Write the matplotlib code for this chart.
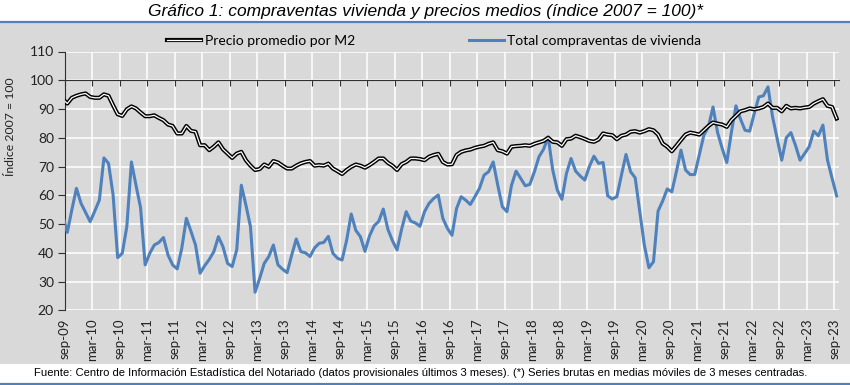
import numpy as np
import matplotlib
matplotlib.use('Agg')
import matplotlib.pyplot as plt
import matplotlib.patheffects as pe
from matplotlib.patches import Rectangle
from matplotlib.lines import Line2D

# Monthly series (aug-09 ... sep-23), index 2007 = 100
precio = [
    93.5, 91.9, 93.9, 94.6, 95.1, 95.4, 94.2, 93.9, 93.9, 95.1,
    94.6, 91.3, 88.2, 87.6, 89.9, 90.9, 90.2, 88.8, 87.5, 87.5,
    87.8, 86.9, 86.1, 84.6, 84.1, 81.5, 81.5, 84.1, 82.4, 82.1,
    77.4, 77.4, 75.7, 76.9, 78.4, 76.0, 74.5, 73.0, 74.5, 75.1,
    72.2, 70.3, 68.8, 69.1, 70.7, 69.9, 71.9, 71.4, 70.3, 69.3,
    69.3, 70.3, 71.1, 71.6, 71.9, 70.3, 70.5, 70.3, 71.0, 69.3,
    68.4, 67.4, 68.8, 69.9, 70.7, 70.3, 69.6, 70.5, 71.6, 72.8,
    72.8, 71.3, 70.3, 68.8, 70.8, 71.6, 72.8, 72.8, 72.6, 72.2,
    73.4, 74.0, 74.4, 71.6, 70.7, 70.8, 74.0, 75.1, 75.6, 75.9,
    76.5, 76.9, 77.2, 77.9, 78.4, 75.7, 75.3, 74.5, 76.9, 77.1,
    77.2, 77.4, 77.2, 77.9, 78.4, 78.9, 80.0, 78.6, 78.4, 77.2,
    79.5, 79.7, 80.7, 80.2, 79.6, 78.9, 78.6, 79.4, 81.5, 81.1,
    80.9, 79.5, 80.7, 81.1, 82.1, 82.3, 81.8, 82.3, 83.0, 82.6,
    81.1, 78.0, 76.9, 75.3, 77.2, 79.2, 81.1, 81.8, 81.5, 81.1,
    82.6, 84.1, 85.3, 84.9, 84.6, 83.8, 86.1, 87.6, 89.2, 89.6,
    90.2, 89.9, 90.2, 90.7, 91.9, 90.4, 90.4, 89.2, 91.1, 90.2,
    90.4, 90.2, 90.5, 90.7, 91.9, 92.7, 93.4, 91.1, 90.7, 86.7,
]
compraventas = [
    53.0, 47.1, 55.0, 62.4, 57.2, 54.0, 50.8, 54.5, 58.3, 73.0,
    71.1, 60.1, 38.3, 39.8, 49.1, 71.6, 63.5, 55.7, 35.8, 39.8,
    42.7, 43.6, 45.3, 39.2, 35.8, 34.4, 41.6, 52.0, 47.5, 42.7,
    32.9, 35.5, 37.7, 40.4, 45.6, 42.1, 36.3, 35.2, 41.0, 63.5,
    56.6, 49.1, 26.3, 31.1, 36.3, 38.7, 42.7, 35.8, 34.3, 33.1,
    39.2, 44.8, 40.4, 40.0, 38.7, 41.7, 43.3, 43.6, 45.7, 39.8,
    38.1, 37.5, 44.4, 53.5, 47.8, 45.6, 40.5, 45.9, 49.4, 50.9,
    55.2, 48.2, 44.2, 41.0, 48.2, 54.3, 51.0, 50.4, 49.2, 54.3,
    57.2, 58.9, 60.1, 52.0, 48.5, 46.1, 55.4, 59.5, 58.3, 56.8,
    59.5, 62.4, 67.0, 68.2, 71.6, 63.5, 56.0, 54.3, 63.5, 68.4,
    65.9, 63.3, 63.8, 68.2, 73.4, 76.0, 80.3, 68.8, 61.8, 58.6,
    67.6, 72.8, 68.4, 66.7, 65.3, 70.0, 73.6, 71.1, 71.4, 59.8,
    58.7, 59.5, 67.0, 74.2, 68.2, 66.1, 54.3, 42.7, 34.8, 36.9,
    54.5, 58.0, 62.2, 61.2, 68.2, 75.7, 68.8, 67.2, 67.2, 74.0,
    80.9, 83.8, 90.7, 81.8, 76.3, 71.4, 81.8, 91.1, 86.5, 82.6,
    82.3, 88.4, 94.2, 94.6, 97.7, 87.3, 79.7, 72.2, 80.0, 81.8,
    77.4, 72.2, 74.5, 76.9, 82.3, 80.7, 84.4, 72.2, 65.9, 59.8,
]
tick_labels = ['sep-09', 'mar-10', 'sep-10', 'mar-11', 'sep-11', 'mar-12',
               'sep-12', 'mar-13', 'sep-13', 'mar-14', 'sep-14', 'mar-15',
               'sep-15', 'mar-16', 'sep-16', 'mar-17', 'sep-17', 'mar-18',
               'sep-18', 'mar-19', 'sep-19', 'mar-20', 'sep-20', 'mar-21',
               'sep-21', 'mar-22', 'sep-22', 'mar-23', 'sep-23']
y_ticks = [20, 30, 40, 50, 60, 70, 80, 90, 100, 110]

W, H = 850, 385
fig = plt.figure(figsize=(W / 100, H / 100), dpi=100)
fig.patch.set_facecolor('white')

GRAY = '#D9D9D9'
BLUE = '#4F81BD'
fig.add_artist(Rectangle((0, 1 - 364 / H), 1, (364 - 23) / H,
                         transform=fig.transFigure, facecolor=GRAY,
                         edgecolor='none', zorder=-10))
fig.add_artist(Line2D([0, 1], [1 - 22 / H] * 2, transform=fig.transFigure,
                      color=BLUE, lw=1.6, zorder=-5))
fig.add_artist(Line2D([0, 1], [1 - 383.5 / H] * 2, transform=fig.transFigure,
                      color=BLUE, lw=1.6, zorder=-5))

left, right, top, bottom = 65, 838.5, 51.5, 310.3
ax = fig.add_axes([left / W, 1 - bottom / H, (right - left) / W, (bottom - top) / H])
ax.set_zorder(1)
ax.set_facecolor(GRAY)

x = np.arange(len(precio)) - 0.5
l_comp, = ax.plot(x, compraventas, color=BLUE, lw=2.2, solid_joinstyle='round',
                  zorder=3)
l_prec, = ax.plot(x, precio, color='white', lw=0.9, zorder=4,
                  path_effects=[pe.Stroke(linewidth=3.0, foreground='black'),
                                pe.Normal()])

ax.set_xlim(0, 168.9)
ax.set_ylim(20, 110)
ax.set_yticks(y_ticks)
xt = np.arange(len(tick_labels)) * 6
ax.set_xticks(xt)
ax.grid(True, color='white', lw=1.1)
ax.set_axisbelow(True)
for s in ['top', 'right']:
    ax.spines[s].set_visible(False)
ax.spines['bottom'].set_position(('data', 100))
ax.spines['bottom'].set_color('#303030')
ax.spines['left'].set_color('#303030')
ax.tick_params(axis='x', direction='out', length=4, labelbottom=False,
               color='#303030')
ax.tick_params(axis='y', direction='out', length=5, color='#303030',
               labelsize=10, pad=3, labelcolor='#222222')
for t in ax.get_yticklabels():
    t.set_family(['Lato', 'DejaVu Sans'])

sec = ax.secondary_xaxis('bottom')
sec.set_xticks(xt)
sec.set_xticklabels(tick_labels, rotation=90, fontsize=9.5, color='#222222',
                    family=['Lato', 'DejaVu Sans'])
sec.tick_params(length=0, pad=6)
sec.spines['bottom'].set_visible(False)

leg = ax.legend([l_prec, l_comp],
                ['Precio promedio por M2', 'Total compraventas de vivienda'],
                ncol=2, loc='center', bbox_to_anchor=(434 / W, 1 - 41 / H),
                bbox_transform=fig.transFigure, frameon=False,
                handlelength=2.5, handletextpad=0.25, columnspacing=8.2,
                prop={'family': ['Lato', 'DejaVu Sans'], 'size': 10})

fig.text(11 / W, 1 - 127 / H, 'Índice 2007 = 100', rotation=90, ha='center',
         va='center', fontsize=8.8, color='#222222',
         family=['Lato', 'DejaVu Sans'])

fig.text(425 / W, 1 - 11.5 / H,
         'Gráfico 1: compraventas vivienda y precios medios (índice 2007 = 100)*',
         ha='center', va='center', fontsize=12.5, style='italic',
         family=['Liberation Sans', 'DejaVu Sans'])

fig.text(421 / W, 1 - 373 / H,
         'Fuente: Centro de Información Estadística del Notariado (datos provisionales últimos 3 meses). '
         '(*) Series brutas en medias móviles de 3 meses centradas.',
         ha='center', va='center', fontsize=8.1,
         family=['Liberation Sans', 'DejaVu Sans'])

fig.savefig('out.png', dpi=100, facecolor='white')
